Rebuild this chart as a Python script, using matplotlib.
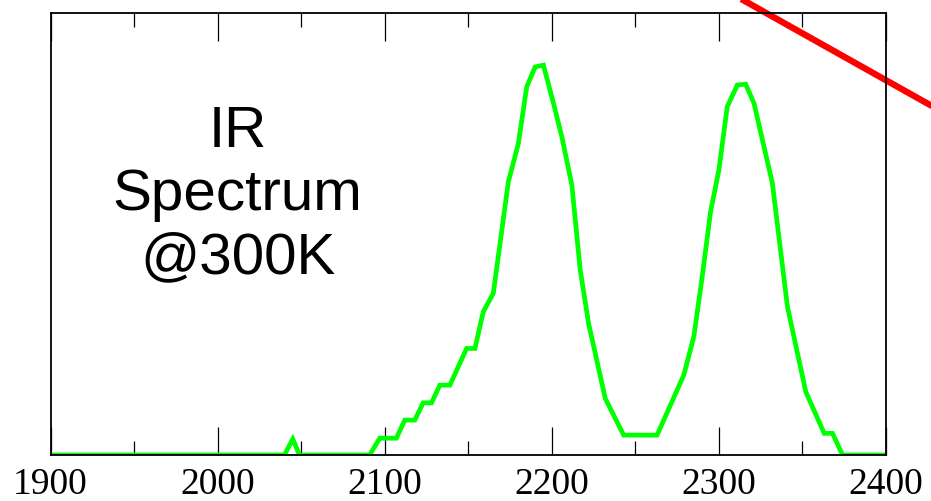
import matplotlib
matplotlib.use("Agg")
import matplotlib.pyplot as plt
from matplotlib.ticker import MultipleLocator

# Spectrum data (wavenumber, relative absorbance)
wavenumber = [1900, 2040, 2045, 2049, 2091, 2097, 2107, 2112, 2118, 2123, 2128, 2133,
              2139, 2149, 2154, 2159, 2165, 2174, 2180, 2185, 2190, 2195, 2201, 2206,
              2212, 2217, 2222, 2232, 2243, 2263, 2279, 2285, 2290, 2295, 2300, 2305,
              2311, 2316, 2321, 2332, 2341, 2352, 2363, 2368, 2374, 2400]
absorbance = [0, 0, 0.036, 0, 0, 0.038, 0.038, 0.079, 0.079, 0.118, 0.118, 0.158,
              0.158, 0.241, 0.241, 0.324, 0.366, 0.618, 0.705, 0.833, 0.878, 0.882, 0.796, 0.720,
              0.611, 0.419, 0.298, 0.128, 0.045, 0.045, 0.181, 0.268, 0.403, 0.550, 0.645, 0.788,
              0.837, 0.839, 0.796, 0.615, 0.336, 0.143, 0.049, 0.049, 0, 0]

# Red straight line (extends outside the plot)
red_x = [2300, 2440]
red_y = [1.060, 0.763]

x_ticks = [1900, 2000, 2100, 2200, 2300, 2400]
x_tick_labels = ["1900", "2000", "2100", "2200", "2300", "2400"]
label_text = "IR\nSpectrum\n@300K"

fig = plt.figure(figsize=(9.31, 5.01), dpi=100)
ax = fig.add_axes([50.5 / 931, 46 / 501, (886 - 50.5) / 931, (455 - 13) / 501])

ax.plot(wavenumber, absorbance, color="#00ff00", lw=3.4, solid_joinstyle="miter")
ax.plot(red_x, red_y, color="#ff0000", lw=4.6, clip_on=False, solid_capstyle="butt")

ax.set_xlim(1900, 2400)
ax.set_ylim(0, 1)

ax.set_xticks(x_ticks)
ax.set_xticklabels(x_tick_labels, fontfamily="Liberation Serif", fontsize=27)
ax.xaxis.set_minor_locator(MultipleLocator(50))
ax.tick_params(axis="x", which="major", direction="in", length=20, width=0.9,
               top=True, bottom=True, pad=9, color="black")
ax.tick_params(axis="x", which="minor", direction="in", length=10, width=0.9,
               top=True, bottom=True, color="black")
ax.tick_params(axis="y", which="both", left=False, right=False,
               labelleft=False, labelright=False)

for s in ax.spines.values():
    s.set_linewidth(1.3)
    s.set_color("black")

ax.text(2012, 0.588, label_text, ha="center", va="center", multialignment="center",
        fontfamily="Liberation Sans", fontsize=42, linespacing=1.21, color="black")

fig.savefig("out.png", dpi=100)
